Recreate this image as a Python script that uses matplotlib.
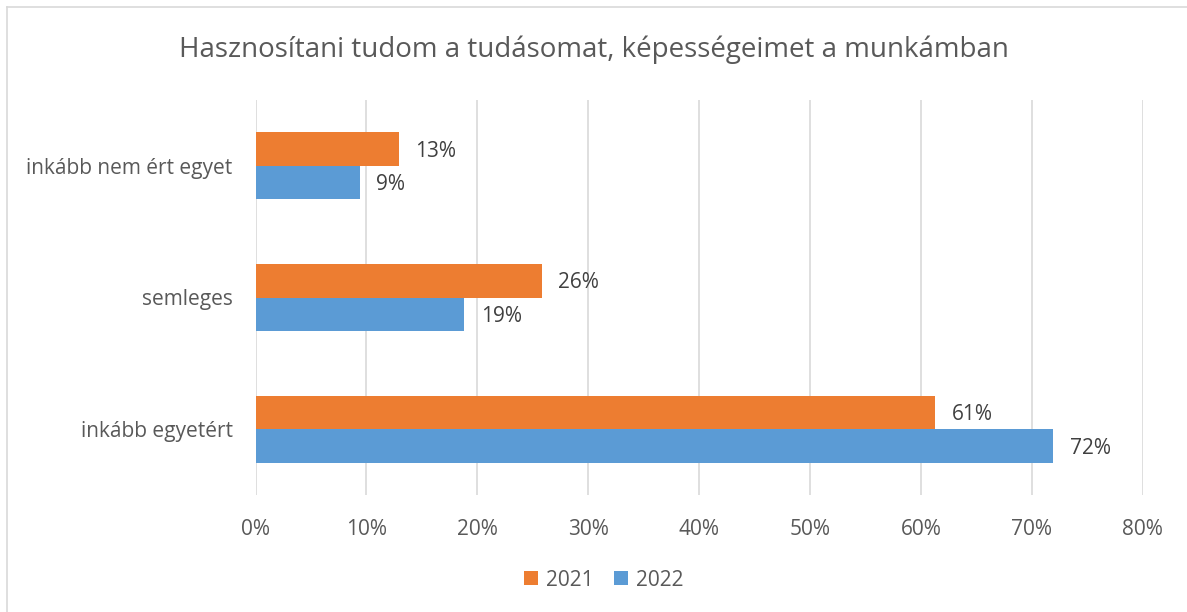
import numpy as np
import matplotlib.pyplot as plt
from matplotlib.lines import Line2D

plt.rcParams['font.family'] = ['Open Sans', 'DejaVu Sans']

categories = ["inkább egyetért", "semleges", "inkább nem ért egyet"]
years = ["2021", "2022"]
vals_2021 = [0.613, 0.258, 0.129]
vals_2022 = [0.719, 0.188, 0.094]
colors = ["#ED7D31", "#5B9BD5"]
title = "Hasznosítani tudom a tudásomat, képességeimet a munkámban"

W, H = 1187, 612
fig = plt.figure(figsize=(W / 100, H / 100), dpi=100)
ax = fig.add_axes([255.5 / W, 1 - 495 / H, (1142.7 - 255.5) / W, (495 - 100) / H])

# frame of the chart (only left and top edges are visible in the picture)
fig.add_artist(Line2D([7 / W, 7 / W], [0, 1 - 7 / H], color="#D9D9D9", lw=1.2))
fig.add_artist(Line2D([7 / W, 1], [1 - 7 / H, 1 - 7 / H], color="#D9D9D9", lw=1.2))

y = np.arange(len(categories))
h = 0.255
b1 = ax.barh(y + h / 2, vals_2021, height=h, color=colors[0], label=years[0], zorder=3)
b2 = ax.barh(y - h / 2, vals_2022, height=h, color=colors[1], label=years[1], zorder=3)

fs = 15
for bars, vals in ((b1, vals_2021), (b2, vals_2022)):
    for bar, v in zip(bars, vals):
        ax.annotate(f"{round(v * 100):.0f}%", (v, bar.get_y() + bar.get_height() / 2),
                    xytext=(12, -1.5), textcoords="offset points", va="center", ha="left",
                    fontsize=fs, color="#404040")

ax.set_xlim(0, 0.8)
ax.set_ylim(-0.5, 2.5)
ax.set_xticks(np.arange(0, 0.81, 0.1))
ax.set_xticklabels([f"{int(round(t * 100))}%" for t in np.arange(0, 0.81, 0.1)])
ax.set_yticks(y)
ax.set_yticklabels(categories)
ax.tick_params(axis="both", length=0, labelsize=fs, labelcolor="#595959")
ax.tick_params(axis="x", pad=17)
ax.tick_params(axis="y", pad=16.5)
ax.grid(axis="x", color="#D9D9D9", lw=1.2, zorder=0)
for s in ax.spines.values():
    s.set_visible(False)

fig.text(0.5, 1 - 50 / H, title, ha="center", va="center", fontsize=20, color="#595959")

fig.legend(handles=[b1, b2], loc="center", bbox_to_anchor=(604 / W, 1 - 580 / H), ncol=2,
           frameon=False, fontsize=fs, labelcolor="#595959", handlelength=0.65,
           handleheight=0.65, handletextpad=0.4, columnspacing=1.0)

fig.savefig("out.png", dpi=100)
